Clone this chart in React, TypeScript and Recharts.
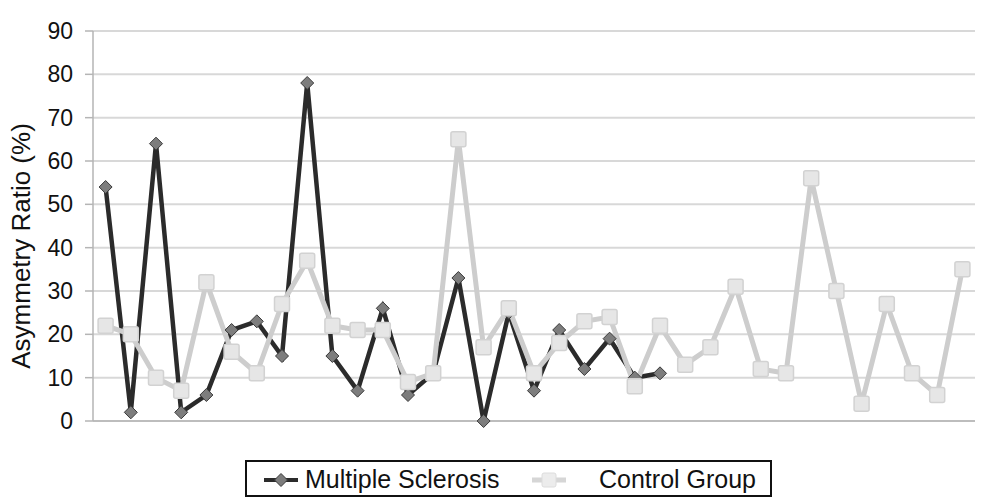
import { CartesianGrid, Line, LineChart, XAxis, YAxis } from 'recharts'

const subjects = Array.from({ length: 35 }, (_, i) => `S${i + 1}`)

const multipleSclerosis = [
  54, 2, 64, 2, 6, 21, 23, 15, 78, 15, 7, 26, 6, 11, 33, 0, 25, 7, 21, 12, 19, 10, 11,
]

const controlGroup = [
  22, 20, 10, 7, 32, 16, 11, 27, 37, 22, 21, 21, 9, 11, 65, 17, 26, 11, 18, 23, 24, 8,
  22, 13, 17, 31, 12, 11, 56, 30, 4, 27, 11, 6, 35,
]

const yTicks = [0, 10, 20, 30, 40, 50, 60, 70, 80, 90]

const data = subjects.map((name, i) => ({
  name,
  i,
  ms: i < multipleSclerosis.length ? multipleSclerosis[i] : null,
  control: controlGroup[i],
}))

// tick marks sit between categories, like the Excel original
const xTicks = subjects.map((_, i) => i + 0.5)

const font = '"Liberation Sans", Arial, Helvetica, sans-serif'

function Diamond(props: any) {
  const { cx, cy, value } = props
  if (value == null || cx == null || cy == null) return null
  const r = 6.5
  return (
    <polygon
      points={`${cx},${cy - r} ${cx + r},${cy} ${cx},${cy + r} ${cx - r},${cy}`}
      fill="#7d7d7d"
      stroke="#3a3a3a"
      strokeWidth={1}
    />
  )
}

function Square(props: any) {
  const { cx, cy, value } = props
  if (value == null || cx == null || cy == null) return null
  const s = 15
  return (
    <rect
      x={cx - s / 2}
      y={cy - s / 2}
      width={s}
      height={s}
      rx={2}
      fill="#e6e6e6"
      stroke="#d2d2d2"
      strokeWidth={1.5}
    />
  )
}

function LegendBox() {
  return (
    <div
      style={{
        position: 'absolute',
        left: 245,
        top: 460,
        width: 527,
        height: 37,
        boxSizing: 'border-box',
        border: '2px solid #111',
        background: '#fff',
        fontFamily: font,
        fontSize: 25,
        color: '#111',
      }}
    >
      <svg width={40} height={20} style={{ position: 'absolute', left: 15, top: 8 }}>
        <line x1={2} y1={10} x2={36} y2={10} stroke="#2b2b2b" strokeWidth={4} />
        <polygon points="19,3.5 25.5,10 19,16.5 12.5,10" fill="#7d7d7d" stroke="#3a3a3a" />
      </svg>
      <span style={{ position: 'absolute', left: 58, top: 2, lineHeight: '30px' }}>
        Multiple Sclerosis
      </span>
      <svg width={40} height={20} style={{ position: 'absolute', left: 283, top: 8 }}>
        <line x1={2} y1={10} x2={36} y2={10} stroke="#d6d6d6" strokeWidth={5} />
        <rect x={12} y={3} width={14} height={14} rx={2} fill="#ececec" stroke="#dcdcdc" />
      </svg>
      <span style={{ position: 'absolute', left: 352, top: 2, lineHeight: '30px' }}>
        Control Group
      </span>
    </div>
  )
}

export default function App() {
  return (
    <div style={{ position: 'absolute', left: 0, top: 0, width: 982, height: 499, background: '#fff' }}>
      <LineChart
        width={982}
        height={499}
        data={data}
        margin={{ top: 31, right: 7, bottom: 68, left: 33 }}
      >
        <CartesianGrid vertical={false} stroke="#d8d8d8" strokeWidth={2} />
        <XAxis
          type="number"
          dataKey="i"
          domain={[-0.5, subjects.length - 0.5]}
          ticks={xTicks}
          tick={false}
          tickSize={8}
          height={10}
          axisLine={{ stroke: '#b5b5b5', strokeWidth: 1.5 }}
          tickLine={{ stroke: '#b5b5b5', strokeWidth: 1.5 }}
          allowDataOverflow
        />
        <YAxis
          domain={[0, 90]}
          ticks={yTicks}
          width={60}
          tickSize={8}
          tickMargin={12}
          interval={0}
          axisLine={{ stroke: '#b5b5b5', strokeWidth: 1.5 }}
          tickLine={{ stroke: '#b5b5b5', strokeWidth: 1.5 }}
          tick={{ fill: '#111', fontSize: 23, fontFamily: font }}
          label={{
            value: 'Asymmetry Ratio (%)',
            angle: -90,
            position: 'insideLeft',
            dx: -17,
            dy: 20,
            style: { textAnchor: 'middle', fill: '#111', fontSize: 26, fontFamily: font },
          }}
        />
        <Line
          type="linear"
          dataKey="ms"
          name="Multiple Sclerosis"
          stroke="#2b2b2b"
          strokeWidth={4.5}
          dot={<Diamond />}
          activeDot={false}
          connectNulls={false}
          isAnimationActive={false}
        />
        <Line
          type="linear"
          dataKey="control"
          name="Control Group"
          stroke="#cdcdcd"
          strokeWidth={5}
          dot={<Square />}
          activeDot={false}
          isAnimationActive={false}
        />
      </LineChart>
      <LegendBox />
    </div>
  )
}
